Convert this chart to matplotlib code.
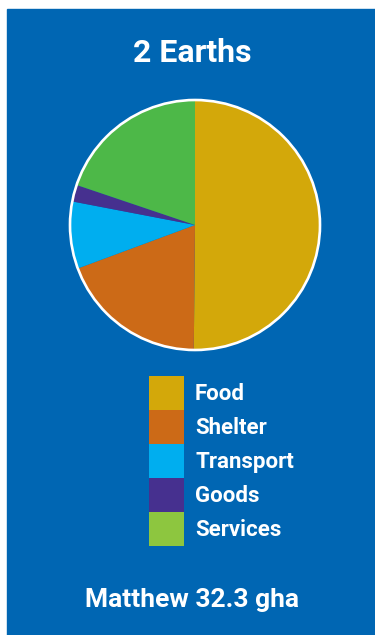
import matplotlib.pyplot as plt
from matplotlib.patches import Patch, Rectangle, Circle

plt.rcParams['font.family'] = ['Roboto', 'DejaVu Sans']

# data (gha per category, Matthew 32.3 gha total)
categories = ['Food', 'Shelter', 'Transport', 'Goods', 'Services']
values = [16.2, 6.2, 2.8, 0.7, 6.4]
pie_colors = ['#D3A80A', '#CC6A17', '#00AEEF', '#46308F', '#4DB848']
legend_colors = ['#D3A80A', '#CC6A17', '#00AEEF', '#46308F', '#8DC63F']
title = '2 Earths'
footer = 'Matthew 32.3 gha'

bg = '#0066B3'
W, H = 375, 635
fig = plt.figure(figsize=(W / 100, H / 100), dpi=100)
fig.patch.set_facecolor('white')
fig.patches.append(Rectangle((7 / W, 0), 1 - 7 / W, 1 - 9 / H,
                             transform=fig.transFigure, color=bg, zorder=-1))

# pie: centre (195, 225) px, radius 125 px
cx, cy, r = 195, 225, 125
ax = fig.add_axes([(cx - r) / W, 1 - (cy + r) / H, 2 * r / W, 2 * r / H])
ax.set_zorder(1)
ax.pie(values, colors=pie_colors, startangle=90, counterclock=False,
       radius=1, wedgeprops=dict(linewidth=0))
ax.add_patch(Circle((0, 0), 1, fill=False, edgecolor='white',
                    linewidth=1.9, clip_on=False))
ax.set_xlim(-1, 1)
ax.set_ylim(-1, 1)
ax.set_aspect('equal')
ax.axis('off')

# legend: swatches 35 x 34 px, stacked without gaps
fs = 16
px = fs * 100 / 72
hh = (34 / px - 0.245) / 0.65
handles = [Patch(facecolor=c, linewidth=0) for c in legend_colors]
fig.legend(handles, categories, loc='upper left',
           bbox_to_anchor=(149 / W, 1 - 376 / H), frameon=False,
           borderpad=0, borderaxespad=0, labelspacing=0,
           handlelength=35 / px, handleheight=hh, handletextpad=11 / px,
           prop=dict(size=fs, weight='bold'), labelcolor='white')

fig.text(192.5 / W, 1 - 62 / H, title, ha='center', va='baseline',
         color='white', fontsize=23, fontweight='bold')
fig.text(192 / W, 1 - 607 / H, footer, ha='center', va='baseline',
         color='white', fontsize=19, fontweight='bold')

fig.savefig('out.png', dpi=100, facecolor=fig.get_facecolor())
